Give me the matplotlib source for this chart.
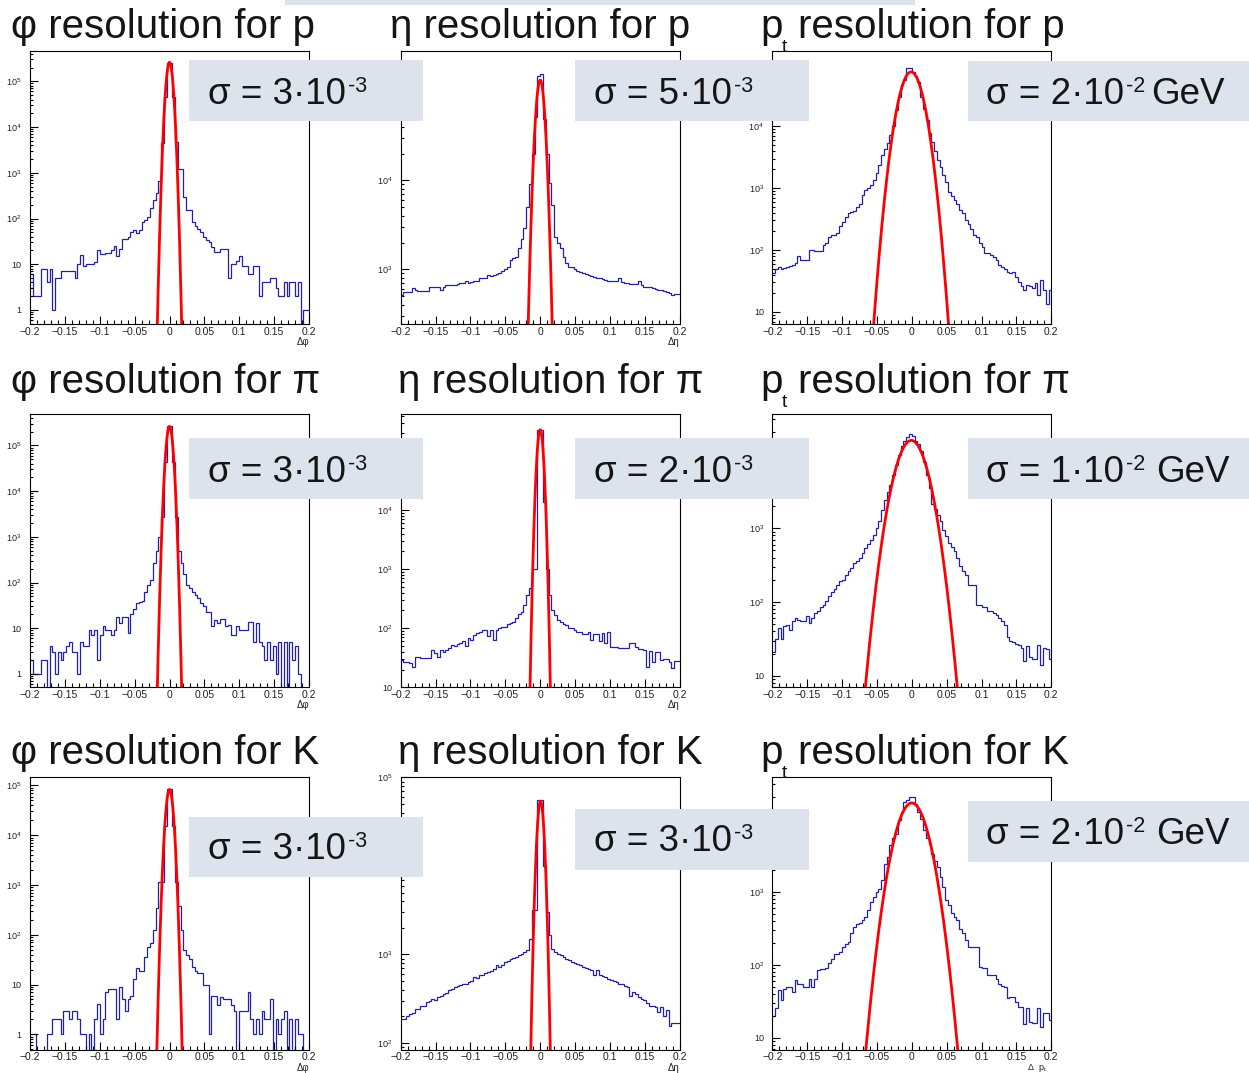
import numpy as np
import matplotlib
matplotlib.use("Agg")
from matplotlib import pyplot as plt
from matplotlib.patches import Rectangle
from matplotlib.ticker import LogLocator, MultipleLocator, NullFormatter, FuncFormatter

plt.rcParams['font.family'] = ['Liberation Sans', 'DejaVu Sans']
plt.rcParams['mathtext.fontset'] = 'custom'
plt.rcParams['mathtext.rm'] = 'Liberation Sans'
plt.rcParams['mathtext.it'] = 'Liberation Sans'
plt.rcParams['axes.unicode_minus'] = True

# common binning of all histograms: 100 bins in [-0.2, 0.2]
edges = np.linspace(-0.2, 0.2, 101)

# bin contents (row: p, pi, K ; column: phi, eta, pt)
phi_p = [6, 2, 2, 2, 8, 8, 4, 8, 1, 5,
         5, 7, 7, 7, 7, 7, 5, 10, 16, 9,
         10, 10, 10, 11, 20, 17, 17, 18, 18, 20,
         25, 15, 22, 36, 36, 40, 52, 55, 48, 55,
         86, 95, 110, 170, 250, 370, 650, 4500, 46000, 250000,
         250000, 46000, 4600, 1200, 1200, 300, 155, 150, 86, 67,
         60, 52, 40, 34, 30, 24, 19, 19, 22, 22,
         22, 5, 10, 10, 12, 15, 9, 9, 6, 6,
         9, 9, 2, 4, 4, 4, 5, 5, 3, 2,
         2, 4, 2, 4, 4, 2, 4, 0, 1, 1]
eta_p = [515, 560, 560, 560, 610, 590, 575, 575, 575, 575,
         640, 640, 630, 630, 590, 630, 670, 670, 665, 670,
         680, 700, 700, 730, 710, 720, 730, 740, 790, 790,
         800, 860, 850, 860, 880, 920, 970, 1000, 1070, 1270,
         1330, 1390, 1720, 2220, 2890, 5000, 9200, 20000, 52000, 150000,
         155000, 49000, 20000, 9400, 5300, 2300, 2000, 1720, 1390, 1170,
         1070, 1050, 1000, 960, 940, 920, 880, 860, 850, 830,
         800, 790, 770, 760, 740, 730, 730, 730, 790, 720,
         700, 700, 680, 690, 680, 730, 660, 640, 640, 630,
         620, 600, 590, 580, 570, 560, 540, 520, 530, 525]
pt_p = [42, 50, 54, 50, 52, 54, 55, 57, 61, 80,
        68, 68, 68, 100, 100, 98, 97, 97, 120, 130,
        160, 175, 175, 190, 240, 285, 335, 390, 410, 430,
        500, 560, 770, 930, 1000, 1110, 1340, 1720, 2330, 3400,
        4300, 5240, 7100, 10000, 18000, 29000, 46000, 55000, 86000, 86000,
        75000, 65000, 52000, 29000, 19000, 12500, 7600, 5600, 4000, 2800,
        2200, 1600, 1260, 870, 750, 640, 560, 440, 390, 305,
        260, 220, 175, 165, 128, 110, 88, 88, 83, 78,
        69, 57, 54, 50, 45, 42, 45, 37, 30, 26,
        23, 27, 26, 24, 29, 19, 33, 23, 13.5, 23]
phi_pi = [2, 1, 1, 1, 2, 2, 0, 4, 3, 1,
          3, 2, 3, 4, 5, 3, 3, 1, 5, 4,
          4, 9, 7, 9, 2, 7, 11, 9, 9, 7,
          9, 18, 13, 18, 18, 8, 20, 27, 35, 38,
          40, 63, 89, 115, 265, 480, 1000, 2700, 43000, 260000,
          260000, 43000, 2700, 480, 265, 150, 89, 75, 63, 54,
          45, 35, 30, 23, 23, 11, 15, 13, 16, 16,
          11, 12, 7, 7, 11, 9, 9, 9, 14, 14,
          5, 13, 5, 4, 2, 5, 2, 4, 1, 5,
          0, 5, 0, 5, 2, 4, 1, 0, 0, 0]
eta_pi = [29, 27, 27, 26, 22, 33, 33, 31, 31, 31,
          31, 43, 38, 33, 43, 40, 42, 46, 52, 50,
          54, 56, 60, 50, 68, 64, 77, 82, 88, 94,
          94, 75, 94, 64, 94, 100, 104, 107, 117, 125,
          130, 150, 173, 190, 250, 370, 475, 1000, 1000, 230000,
          230000, 14000, 1000, 370, 205, 168, 140, 130, 120, 114,
          100, 100, 95, 88, 88, 79, 79, 88, 64, 79,
          79, 60, 84, 56, 88, 49, 49, 48, 46, 46,
          46, 46, 56, 56, 49, 45, 44, 43, 22, 41,
          27, 40, 40, 29, 30, 30, 27, 21, 28, 28]
pt_pi = [21, 32, 44, 32, 47, 49, 42, 55, 61, 58,
         55, 55, 64, 52, 61, 70, 75, 87, 92, 102,
         119, 136, 150, 171, 190, 200, 234, 260, 288, 340,
         355, 395, 460, 540, 620, 700, 820, 1010, 1250, 1790,
         2440, 3100, 3880, 5300, 7200, 9900, 13000, 15000, 17500, 19000,
         18000, 15000, 13700, 11000, 7800, 5300, 3500, 2100, 1800, 1500,
         1250, 960, 780, 630, 560, 490, 395, 305, 260, 230,
         171, 171, 171, 92, 90, 87, 87, 75, 75, 71,
         66, 61, 55, 49, 34, 30, 29, 27, 26, 24,
         16, 25, 18, 17, 17, 26, 14, 24, 23, 17]
phi_k = [1, 1, 0, 0, 0, 0, 1, 1, 2, 2,
         2, 1, 3, 3, 2, 3, 3, 2, 1, 1,
         0, 1, 0, 2, 4, 1, 2, 7, 8, 8,
         8, 2, 9, 5, 3, 5, 6, 13, 21, 19,
         19, 36, 57, 67, 124, 340, 1170, 1170, 15000, 83000,
         83000, 15000, 1170, 370, 124, 49, 40, 32, 23, 19,
         17, 17, 9.7, 9.7, 1, 5.8, 5.8, 3.8, 5.6, 5,
         5, 5, 3.8, 3, 0, 3, 3, 3, 7, 2,
         1, 2, 1, 3, 2, 2, 5, 0, 2, 1,
         2, 3, 0, 2, 0, 2, 1, 1, 0, 0]
eta_k = [188, 188, 200, 215, 218, 245, 245, 260, 260, 290,
         300, 317, 310, 330, 340, 360, 370, 400, 410, 430,
         440, 450, 470, 470, 490, 500, 560, 540, 580, 590,
         610, 635, 650, 690, 755, 720, 760, 825, 850, 900,
         910, 940, 980, 1020, 1060, 1110, 1500, 3150, 3150, 55000,
         55000, 10000, 3000, 1650, 1150, 1080, 1020, 980, 940, 900,
         860, 825, 810, 790, 760, 720, 700, 690, 660, 580,
         660, 580, 570, 560, 530, 510, 500, 490, 470, 460,
         440, 430, 340, 380, 360, 330, 317, 305, 280, 260,
         265, 255, 225, 255, 200, 235, 155, 170, 170, 170]
pt_k = [20, 26, 45, 33, 47, 50, 50, 42, 62, 55,
        55, 50, 50, 65, 50, 65, 85, 89, 89, 90,
        105, 122, 143, 143, 150, 175, 195, 206, 270, 330,
        360, 380, 410, 450, 560, 730, 860, 1000, 1110, 1450,
        2450, 3000, 4370, 5500, 6300, 9600, 12500, 17000, 18000, 20000,
        20000, 16000, 12500, 10000, 7000, 5500, 4600, 3300, 2700, 2200,
        1600, 1170, 770, 660, 510, 460, 410, 315, 270, 220,
        175, 175, 175, 175, 94, 92, 92, 72, 72, 72,
        65, 55, 52, 50, 35, 36, 36, 31, 26.6, 26.6,
        15.7, 26, 16.5, 16, 16, 26, 14, 22, 22, 17.5]

hists = [phi_p, eta_p, pt_p, phi_pi, eta_pi, pt_pi, phi_k, eta_k, pt_k]

# gaussian fits drawn in red: amplitude, mean, sigma
fit_amp = [2.6e5, 1.34e5, 7.5e4, 2.6e5, 2.3e5, 1.55e4, 8.3e4, 5.4e4, 1.66e4]
fit_mean = [0.0, 0.0, -0.001, 0.0, 0.0, -0.0007, 0.0, 0.0005, 0.0]
fit_sigma = [0.0034, 0.00484, 0.0124, 0.0034, 0.00326, 0.0168, 0.0037, 0.0039, 0.0167]

# y ranges of the log axes
y_lo = [0.494, 243, 6.4, 0.51, 10, 7.0, 0.49, 84, 6.9]
y_hi = [4.6e5, 2.84e5, 1.63e5, 4.8e5, 4.2e5, 3.5e4, 1.5e5, 1.02e5, 3.8e4]

particles = ['p', 'π', 'K']
sigma_main = ['σ = 3·10', 'σ = 5·10', 'σ = 2·10',
              'σ = 3·10', 'σ = 2·10', 'σ = 1·10',
              'σ = 3·10', 'σ = 3·10', 'σ = 2·10']
sigma_exp = ['-3', '-3', '-2', '-3', '-3', '-2', '-3', '-3', '-2']
x_titles = ['Δφ', 'Δη', '', 'Δφ', 'Δη', '', 'Δφ', 'Δη', r'Δ  p$_\mathregular{t}$']

W, H = 1249, 1073
fig = plt.figure(figsize=(W / 100, H / 100), dpi=100)

blue = '#2020a8'
box_color = '#dce3ed'
ink = '#151515'

# panel geometry in pixels
col_left = [30, 400.7, 772.3]
row_top = [51, 414.3, 776.7]
ax_w, ax_h = 279, 273

# sigma boxes in pixels: (left, top, width, height) and text baseline
box_geo = [(189, 60, 234, 61), (575, 60, 234, 61), (968, 61, 281, 60),
           (189, 438, 234, 61), (575, 438, 234, 61), (968, 438, 281, 61),
           (189, 817, 234, 60), (575, 809, 234, 61), (968, 801, 281, 61)]
text_base = [104, 104, 104, 481.7, 481.7, 481.7, 859.3, 851, 844]
gev_gap = [0, 0, 6, 0, 0, 11, 0, 0, 11]


def xfmt(v, pos):
    v = round(v, 3)
    if abs(v) < 1e-9:
        return '0'
    return ('%g' % v).replace('-', '\u2212')


def yfmt(v, pos):
    k = int(round(np.log10(v)))
    if k == 0:
        return '1'
    if k == 1:
        return '10'
    return r'$10^{%d}$' % k


axes = []
for n in range(9):
    r, c = divmod(n, 3)
    ax = fig.add_axes([col_left[c] / W, 1 - (row_top[r] + ax_h) / H, ax_w / W, ax_h / H])
    axes.append(ax)
    ax.set_yscale('log')
    ax.set_xlim(-0.2, 0.2)
    ax.set_ylim(y_lo[n], y_hi[n])

    vals = np.asarray(hists[n], dtype=float)
    vals = np.where(vals > 0, vals, y_lo[n] * 1e-3)  # empty bins drop out of the frame
    ax.stairs(vals, edges, baseline=None, color=blue, lw=0.9)

    mu, s = fit_mean[n], fit_sigma[n]
    xs = np.linspace(mu - 8 * s, mu + 8 * s, 600)
    ax.plot(xs, fit_amp[n] * np.exp(-0.5 * ((xs - mu) / s) ** 2), color='#ff0000', lw=2.0)

    ax.xaxis.set_major_locator(MultipleLocator(0.05))
    ax.xaxis.set_minor_locator(MultipleLocator(0.01))
    ax.xaxis.set_major_formatter(FuncFormatter(xfmt))
    ax.yaxis.set_major_locator(LogLocator(base=10, numticks=20))
    ax.yaxis.set_minor_locator(LogLocator(base=10, subs=np.arange(2, 10), numticks=20))
    ax.yaxis.set_major_formatter(FuncFormatter(yfmt))
    ax.yaxis.set_minor_formatter(NullFormatter())

    ax.tick_params(which='both', direction='in', top=False, right=False,
                   width=0.8, color='black', labelcolor='#222222')
    ax.tick_params(axis='x', which='major', length=6, labelsize=7.5, pad=2)
    ax.tick_params(axis='x', which='minor', length=3)
    ax.tick_params(axis='y', which='major', length=5.5, labelsize=6.5, pad=6)
    ax.tick_params(axis='y', which='minor', length=2.5)
    for sp in ax.spines.values():
        sp.set_linewidth(0.8)
        sp.set_color('black')

    if x_titles[n]:
        if n == 8:
            ax.text(0.985, -0.074, x_titles[n], transform=ax.transAxes, ha='right',
                    va='baseline', fontsize=6.5, color='#222222')
        else:
            ax.text(1.0, -0.077, x_titles[n], transform=ax.transAxes, ha='right',
                    va='baseline', fontsize=7, color='#222222')

# y labels that sit wholly under a sigma box are not seen on the slide
fig.canvas.draw()
for ax in axes:
    for lab in ax.yaxis.get_ticklabels():
        if not lab.get_visible() or not lab.get_text():
            continue
        bb = lab.get_window_extent()
        for bx, by, bw, bh in box_geo:
            if bx <= bb.x0 and bb.x1 <= bx + bw and H - by - bh <= bb.y0 and bb.y1 <= H - by:
                lab.set_visible(False)

# overlay in pixel coordinates for slide texts and boxes
top = fig.add_axes([0, 0, 1, 1], zorder=10)
top.set_xlim(0, W)
top.set_ylim(H, 0)
top.axis('off')
top.patch.set_alpha(0)

renderer = fig.canvas.get_renderer()


def put_pieces(x, y, pieces):
    # pieces: (text, size, gap before, raise)
    for s, size, gap, rise in pieces:
        x += gap
        t = top.text(x, y - rise, s, fontsize=size, ha='left', va='baseline', color=ink)
        x = t.get_window_extent(renderer=renderer).x1


top.add_patch(Rectangle((285, 0), 630, 5, facecolor=box_color, edgecolor='none'))

title_base = [37.7, 392.7, 764.2]
eta_x = [390, 398, 398]
for r in range(3):
    y = title_base[r]
    put_pieces(11, y, [('φ resolution for ' + particles[r], 29, 0, 0)])
    put_pieces(eta_x[r], y, [('η resolution for ' + particles[r], 29, 0, 0)])
    put_pieces(760, y, [('p', 29, 0, 0), ('t', 14, -1, -14),
                        ('resolution for ' + particles[r], 29, 11, 0)])

for n in range(9):
    bx, by, bw, bh = box_geo[n]
    top.add_patch(Rectangle((bx, by), bw, bh, facecolor=box_color, edgecolor='none'))
    tx = bx + 19 if n % 3 != 2 else bx + 18
    pieces = [(sigma_main[n], 26.5, 0, 0), (sigma_exp[n], 15.5, 2, 12)]
    if n % 3 == 2:
        pieces.append(('GeV', 26.5, gev_gap[n], 0))
    put_pieces(tx, text_base[n], pieces)

fig.savefig('out.png', dpi=100)
